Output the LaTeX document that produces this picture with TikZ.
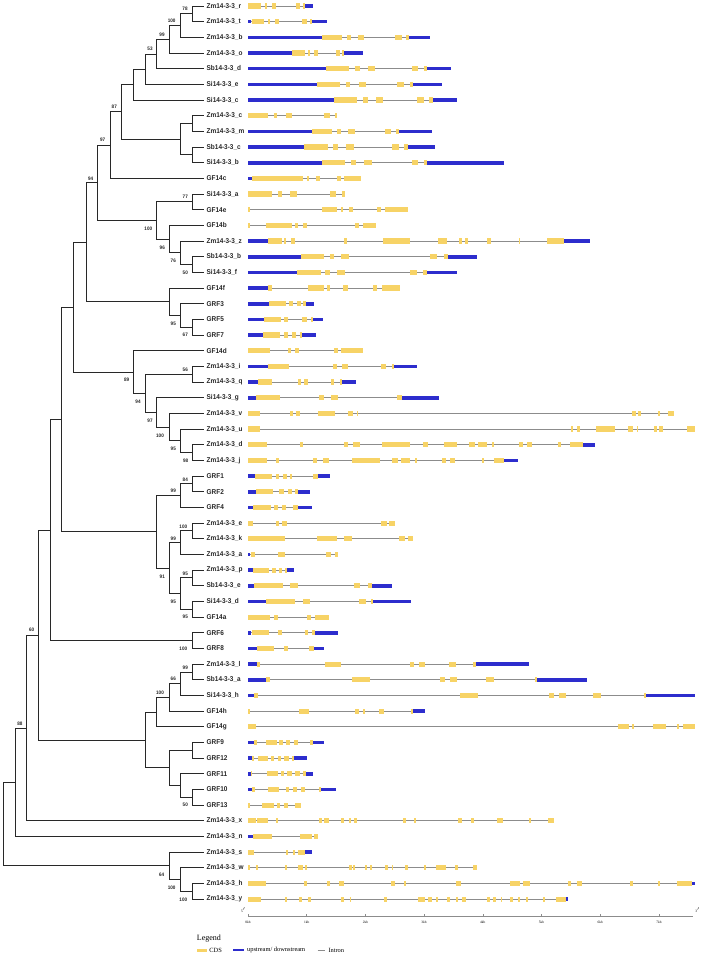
\documentclass[tikz,border=0pt]{standalone}
\usepackage{fontspec}
\setmainfont{Liberation Serif}
\newfontfamily\leaffont[FakeStretch=0.92]{Liberation Sans}
\usetikzlibrary{positioning}

\definecolor{cdsyellow}{RGB}{247,211,102}
\definecolor{utrblue}{RGB}{45,45,205}
\definecolor{introngray}{RGB}{140,140,140}
\definecolor{treegray}{RGB}{40,40,40}

\tikzset{
  branch/.style={draw=treegray, line width=1pt},
  leaf/.style={anchor=west, inner xsep=2.5pt, inner ysep=0.5pt, text=black!85,
    font=\leaffont\bfseries\fontsize{7}{8}\selectfont},
  boot/.style={inner sep=0pt, text=black!85, font=\leaffont\bfseries\fontsize{5}{5}\selectfont},
  intronline/.style={draw=introngray, line width=0.8pt},
  cdsbox/.style={fill=cdsyellow},
  utrbox/.style={fill=utrblue},
  kblabel/.style={inner sep=0pt, font=\fontsize{3.5}{4}\selectfont},
  legtext/.style={inner sep=0pt, anchor=west, font=\fontsize{6.4}{7}\selectfont}
}

% one gene row: intron, UTR boxes, CDS boxes
\newcommand{\geneline}[2]{\draw[intronline] (248.3,{6+15.67*(#1-1)}) -- (#2,{6+15.67*(#1-1)});}
\newcommand{\utrrow}[2]{\foreach \xa/\xb in {#2} {\fill[utrbox] (\xa,{6+15.67*(#1-1)-1.8}) rectangle (\xb,{6+15.67*(#1-1)+1.8});}}
\newcommand{\cdsrow}[2]{\foreach \xa/\xb in {#2} {\fill[cdsbox] (\xa,{6+15.67*(#1-1)-2.6}) rectangle (\xb,{6+15.67*(#1-1)+2.6});}}

\begin{document}
\begin{tikzpicture}[x=1pt, y=-1pt]
    \useasboundingbox (0,0) rectangle (704,959);

    % Leaves
    \foreach \i/\name in {1/Zm14-3-3\_r, 2/Zm14-3-3\_t, 3/Zm14-3-3\_b, 4/Zm14-3-3\_o,
        5/Sb14-3-3\_d, 6/Si14-3-3\_e, 7/Si14-3-3\_c, 8/Zm14-3-3\_c, 9/Zm14-3-3\_m,
        10/Sb14-3-3\_c, 11/Si14-3-3\_b, 12/GF14c, 13/Si14-3-3\_a, 14/GF14e, 15/GF14b,
        16/Zm14-3-3\_z, 17/Sb14-3-3\_b, 18/Si14-3-3\_f, 19/GF14f, 20/GRF3, 21/GRF5,
        22/GRF7, 23/GF14d, 24/Zm14-3-3\_i, 25/Zm14-3-3\_q, 26/Si14-3-3\_g,
        27/Zm14-3-3\_v, 28/Zm14-3-3\_u, 29/Zm14-3-3\_d, 30/Zm14-3-3\_j, 31/GRF1,
        32/GRF2, 33/GRF4, 34/Zm14-3-3\_e, 35/Zm14-3-3\_k, 36/Zm14-3-3\_a,
        37/Zm14-3-3\_p, 38/Sb14-3-3\_e, 39/Si14-3-3\_d, 40/GF14a, 41/GRF6, 42/GRF8,
        43/Zm14-3-3\_l, 44/Sb14-3-3\_a, 45/Si14-3-3\_h, 46/GF14h, 47/GF14g, 48/GRF9,
        49/GRF12, 50/GRF11, 51/GRF10, 52/GRF13, 53/Zm14-3-3\_x, 54/Zm14-3-3\_n,
        55/Zm14-3-3\_s, 56/Zm14-3-3\_w, 57/Zm14-3-3\_h, 58/Zm14-3-3\_y}
      \node[leaf] (L\i) at (204,{6+15.67*(\i-1)}) {\name};

    % Internal nodes
    \coordinate (a1) at (192.3,13.83);
    \coordinate (a2) at (180.7,25.59);
    \coordinate (a3) at (169,39.3);
    \coordinate (a4) at (156.7,54.0);
    \coordinate (a5) at (145,69.18);
    \coordinate (a6) at (133.3,84.59);
    \coordinate (b1) at (192.3,123.55);
    \coordinate (b2) at (192.3,154.85);
    \coordinate (b3) at (180.7,139.2);
    \coordinate (a7) at (121.7,111.9);
    \coordinate (a8) at (110,145.15);
    \coordinate (c1) at (192.3,201.85);
    \coordinate (c2) at (192.3,264.55);
    \coordinate (c3) at (180.7,252.78);
    \coordinate (c4) at (169,239.09);
    \coordinate (c5) at (156.7,220.47);
    \coordinate (a9) at (97.7,182.81);
    \coordinate (d1) at (192.3,327.25);
    \coordinate (d2) at (180.7,315.48);
    \coordinate (d3) at (169,301.79);
    \coordinate (a10) at (86,242.3);
    \coordinate (e1) at (192.3,374.25);
    \coordinate (e2) at (192.3,452.6);
    \coordinate (e3) at (180.7,440.85);
    \coordinate (e4) at (169,427.13);
    \coordinate (e5) at (156.7,412.46);
    \coordinate (e6) at (145,393.36);
    \coordinate (e7) at (133.3,372.03);
    \coordinate (a11) at (73.3,307.17);
    \coordinate (f1) at (192.3,483.95);
    \coordinate (f2) at (180.7,495.73);
    \coordinate (f3) at (192.3,530.95);
    \coordinate (f4) at (180.7,542.73);
    \coordinate (f5) at (192.3,577.95);
    \coordinate (f6) at (192.3,609.3);
    \coordinate (f7) at (180.7,593.63);
    \coordinate (f8) at (169,568.18);
    \coordinate (f9) at (156.7,531.96);
    \coordinate (a12) at (61.7,419.57);
    \coordinate (g1) at (192.3,640.65);
    \coordinate (a13) at (50,530.11);
    \coordinate (h1) at (192.3,672.0);
    \coordinate (h2) at (180.7,683.75);
    \coordinate (h3) at (169,697.48);
    \coordinate (h4) at (156.7,712.14);
    \coordinate (h5) at (192.3,750.35);
    \coordinate (h6) at (192.3,797.35);
    \coordinate (h7) at (180.7,785.58);
    \coordinate (h8) at (169,767.97);
    \coordinate (h9) at (145,740.06);
    \coordinate (a14) at (38.3,635.09);
    \coordinate (a15) at (26.7,728.0);
    \coordinate (a16) at (15,782.25);
    \coordinate (k1) at (192.3,891.35);
    \coordinate (k2) at (180.7,879.63);
    \coordinate (k3) at (169,865.92);
    \coordinate (root) at (3.3,824.08);

    % Branches
    \foreach \p/\c in {a1/L1, a1/L2, a2/a1, a2/L3, a3/a2, a3/L4, a4/a3, a4/L5, a5/a4, a5/L6,
        a6/a5, a6/L7, b1/L8, b1/L9, b2/L10, b2/L11, b3/b1, b3/b2, a7/a6, a7/b3, a8/a7, a8/L12,
        c1/L13, c1/L14, c2/L17, c2/L18, c3/L16, c3/c2, c4/L15, c4/c3, c5/c1, c5/c4, a9/a8, a9/c5,
        d1/L21, d1/L22, d2/L20, d2/d1, d3/L19, d3/d2, a10/a9, a10/d3,
        e1/L24, e1/L25, e2/L29, e2/L30, e3/L28, e3/e2, e4/L27, e4/e3, e5/L26, e5/e4,
        e6/e1, e6/e5, e7/L23, e7/e6, a11/a10, a11/e7,
        f1/L31, f1/L32, f2/f1, f2/L33, f3/L34, f3/L35, f4/f3, f4/L36, f5/L37, f5/L38,
        f6/L39, f6/L40, f7/f5, f7/f6, f8/f4, f8/f7, f9/f2, f9/f8, a12/a11, a12/f9,
        g1/L41, g1/L42, a13/a12, a13/g1,
        h1/L43, h1/L44, h2/h1, h2/L45, h3/h2, h3/L46, h4/h3, h4/L47, h5/L48, h5/L49,
        h6/L51, h6/L52, h7/L50, h7/h6, h8/h5, h8/h7, h9/h4, h9/h8, a14/a13, a14/h9,
        a15/a14, a15/L53, a16/a15, a16/L54,
        k1/L57, k1/L58, k2/L56, k2/k1, k3/L55, k3/k2, root/a16, root/k3}
      \draw[branch] (\p) |- (\c);

    % Bootstrap values
    \foreach \x/\y/\v [count=\n] in {185/9/78, 171.7/20.7/100, 162/34.3/99, 150/49/53,
        114.3/106.7/87, 102.7/140/97, 90.7/178.3/94, 185.3/196.7/77, 148.3/228.3/100,
        162.3/247.7/96, 173.3/260.7/76, 185.3/272.3/50, 173.3/324/95, 185.3/335/67,
        185.3/369.3/56, 126.7/380/89, 138/401.7/94, 150/421/97, 160/435.7/100,
        173.3/449/95, 185.7/460.7/98, 185.3/480/84, 173.3/491/99, 183.3/526.7/100,
        173.3/538.3/99, 185.3/573.3/95, 162.3/576.7/91, 173.3/601.7/95, 185.3/616.7/95,
        183.3/649/100, 31.7/630/60, 185.3/667.3/99, 173.3/679/66, 160/692.3/100,
        185.3/805/50, 20/724/88, 161.7/875/64, 171.7/887.7/100, 183.3/900/100}
      \node[boot] (bs\n) at (\x,\y) {\v};

    % Gene structures
    \geneline{1}{312.7} \utrrow{1}{305/312.7}
    \cdsrow{1}{248.3/261, 265/267.3, 272.3/276, 296/300, 303.3/305}
    \geneline{2}{327.3} \utrrow{2}{248.3/251, 311.7/327.3}
    \cdsrow{2}{252.3/264.3, 268.3/270.3, 275/279, 302.3/306.7, 310/311.7}
    \geneline{3}{430.3} \utrrow{3}{248.3/322.3, 409/430.3}
    \cdsrow{3}{322.3/342, 347.3/351, 358.3/364.3, 395/401.7, 406.3/409}
    \geneline{4}{362.7} \utrrow{4}{248.3/291.7, 344/362.7}
    \cdsrow{4}{291.7/305, 307.7/310, 314/318, 336/340, 342/344}
    \geneline{5}{451.3} \utrrow{5}{248.3/326, 426.7/451.3}
    \cdsrow{5}{326/349.3, 355/360, 367.7/375, 411.7/418.3, 424/426.7}
    \geneline{6}{442} \utrrow{6}{248.3/316.7, 413.3/442}
    \cdsrow{6}{316.7/340, 345.7/350.3, 359/366.3, 396.7/403.7, 409.7/413.3}
    \geneline{7}{457.3} \utrrow{7}{248.3/334, 432.7/457.3}
    \cdsrow{7}{334/357.3, 363.3/368, 375.7/383, 417/424.3, 429.3/432.7}
    \geneline{8}{337.3}
    \cdsrow{8}{248.3/268.3, 274/277.3, 285.7/292.3, 324/330, 335/337.3}
    \geneline{9}{432.3} \utrrow{9}{248.3/311.7, 399.3/432.3}
    \cdsrow{9}{311.7/332, 337.3/341.3, 348.3/355, 385.3/391, 396.3/399.3}
    \geneline{10}{434.7} \utrrow{10}{248.3/304.3, 407.7/434.7}
    \cdsrow{10}{304.3/327.7, 333/338, 346/353.7, 392/398.7, 403.7/407.7}
    \geneline{11}{504.3} \utrrow{11}{248.3/321.7, 427.3/504.3}
    \cdsrow{11}{321.7/344.7, 351/355.7, 364.3/372, 411.7/418.3, 423.7/427.3}
    \geneline{12}{361} \utrrow{12}{248.3/252.3}
    \cdsrow{12}{252.3/303.3, 306.7/309, 316/320, 336.7/340.7, 344.3/361}
    \geneline{13}{345}
    \cdsrow{13}{248.3/272.3, 278.3/282.3, 290.3/297.3, 329.7/336, 342/345}
    \geneline{14}{407.7}
    \cdsrow{14}{248.3/250, 322/337, 340.7/343.3, 349/353.3, 377.3/381, 385/407.7}
    \geneline{15}{376}
    \cdsrow{15}{248.3/249.7, 266/292.3, 295/298.3, 302.7/306.7, 355/359, 363/376}
    \geneline{16}{590} \utrrow{16}{248.3/267.7, 564/590}
    \cdsrow{16}{267.7/281.7, 284/286.3, 291.3/295, 344/347.3, 382.7/410, 438/447.3,
      459.3/462.3, 465/467.7, 486.7/490.7, 519/520.3, 547.3/564}
    \geneline{17}{477.3} \utrrow{17}{248.3/300.7, 447.7/477.3}
    \cdsrow{17}{300.7/324.3, 329.7/334.3, 341.3/349, 430/437, 443.7/447.7}
    \geneline{18}{457} \utrrow{18}{248.3/296.7, 426.7/457}
    \cdsrow{18}{296.7/320.7, 325/330, 337.3/344.7, 409.7/417, 423/426.7}
    \geneline{19}{399.7} \utrrow{19}{248.3/268.3}
    \cdsrow{19}{268.3/271.7, 307.7/324, 327.3/330.3, 343/347.7, 373/377.3, 381.7/399.7}
    \geneline{20}{314} \utrrow{20}{248.3/269.3, 305.7/314}
    \cdsrow{20}{269.3/285.7, 289.3/293.3, 296.7/300.7, 303.3/305.7}
    \geneline{21}{323.3} \utrrow{21}{248.3/264, 313.3/323.3}
    \cdsrow{21}{264/280.7, 284.3/288.3, 302.3/306.7, 311/313.3}
    \geneline{22}{316} \utrrow{22}{248.3/263.3, 302.3/316}
    \cdsrow{22}{263.3/280, 284/287.7, 292/295.7, 300/302.3}
    \geneline{23}{362.7}
    \cdsrow{23}{248.3/270, 287.7/290.7, 295/299, 333.7/338.3, 341/362.7}
    \geneline{24}{417.3} \utrrow{24}{248.3/267.7, 394/417.3}
    \cdsrow{24}{267.7/289, 333/336.7, 342.3/347.7, 381/386, 391.7/394}
    \geneline{25}{356} \utrrow{25}{248.3/258.3, 341.7/356}
    \cdsrow{25}{258.3/271.7, 297.7/300.7, 304/307.7, 331/334.3, 340/341.7}
    \geneline{26}{438.7} \utrrow{26}{248.3/255.7, 402.3/438.7}
    \cdsrow{26}{255.7/280.3, 319/323.7, 330.7/337.7, 396.7/402.3}
    \geneline{27}{674}
    \cdsrow{27}{248.3/260.3, 290.3/293, 295.7/299.7, 317.7/335, 348.3/352.7, 356.7/358.3,
      632.3/635.7, 637.7/641, 658/659.7, 668/674}
    \geneline{28}{695.3}
    \cdsrow{28}{248.3/260.3, 570.7/573, 576.7/580, 595.7/615, 628.3/633.3, 636.7/638.3,
      653.7/657, 659.3/662.7, 687.3/695.3}
    \geneline{29}{595.3} \utrrow{29}{582.7/595.3}
    \cdsrow{29}{248.3/266.7, 299.7/302.7, 344.3/348.3, 353.3/359.7, 382.3/409.7, 422.7/428,
      444/457, 469.3/475, 478.3/487.3, 491.7/494.3, 518.7/523.3, 527/532, 558/561, 569.7/582.7}
    \geneline{30}{518.3} \utrrow{30}{504.3/518.3}
    \cdsrow{30}{248.3/266.7, 275.7/279.3, 313/317.3, 322.7/328.7, 352.3/380, 392/397.7,
      401.3/409.7, 415/417.3, 441.7/446.3, 450/455, 481.7/484.3, 494.3/504.3}
    \geneline{31}{330} \utrrow{31}{248.3/255, 318.3/330}
    \cdsrow{31}{255/272.3, 275.7/279.3, 283.3/287.3, 290/292, 313/318.3}
    \geneline{32}{310} \utrrow{32}{248.3/256, 297.7/310}
    \cdsrow{32}{256/273.3, 279.3/283.7, 287.7/291.7, 295/297.7}
    \geneline{33}{312} \utrrow{33}{248.3/253.3, 298.3/312}
    \cdsrow{33}{253.3/271, 274.3/278.3, 282.3/285.7, 292.7/298.3}
    \geneline{34}{395}
    \cdsrow{34}{248.3/252.7, 275.7/279.3, 281.7/286.7, 381/386.7, 389.3/395}
    \geneline{35}{412.7}
    \cdsrow{35}{248.3/285, 317/337.3, 343.7/351.7, 399.3/405, 407.7/412.7}
    \geneline{36}{338.3} \utrrow{36}{248.3/250}
    \cdsrow{36}{251/255, 277.7/285, 325.7/331, 335/338.3}
    \geneline{37}{294} \utrrow{37}{248.3/253.3, 286.7/294}
    \cdsrow{37}{253.3/269.3, 272.3/275.7, 279.3/282.3, 284.7/286.7}
    \geneline{38}{392.3} \utrrow{38}{248.3/254.3, 371.7/392.3}
    \cdsrow{38}{254.3/282.7, 290/297.7, 354/360, 368.3/371.7}
    \geneline{39}{410.7} \utrrow{39}{248.3/266, 373.3/410.7}
    \cdsrow{39}{266/295, 303.3/310.3, 359.3/366, 371/373.3}
    \geneline{40}{329.3}
    \cdsrow{40}{248.3/270, 274.3/277.7, 307.3/311.3, 315/329.3}
    \geneline{41}{338} \utrrow{41}{248.3/251, 315/338}
    \cdsrow{41}{251.7/269, 278.3/282.3, 305/308.3, 311.7/315}
    \geneline{42}{324} \utrrow{42}{248.3/256.7, 314.3/324}
    \cdsrow{42}{256.7/274, 284/287.7, 309/314.3}
    \geneline{43}{529.3} \utrrow{43}{248.3/256.7, 476/529.3}
    \cdsrow{43}{256.7/259.7, 325.3/340.7, 410/414, 419/425, 449.3/456, 473.3/476}
    \geneline{44}{587.3} \utrrow{44}{248.3/265.7, 536.7/587.3}
    \cdsrow{44}{265.7/270, 351.7/369.7, 440.3/445, 450.3/457, 486/494, 534.7/536.7}
    \geneline{45}{695.3} \utrrow{45}{248.3/254.3, 646.3/695.3}
    \cdsrow{45}{254.3/258.3, 460/477.7, 549/553.7, 559.3/566, 592.7/601, 644.3/646.3}
    \geneline{46}{425} \utrrow{46}{412.7/425}
    \cdsrow{46}{248.3/250.3, 298.7/309.3, 355.3/358.7, 363.3/365.3, 379/384, 411/412.7}
    \geneline{47}{695.3}
    \cdsrow{47}{248.3/255.7, 617.7/629, 631.7/634.3, 653/665.7, 676.7/679, 682.7/695.3}
    \geneline{48}{324.3} \utrrow{48}{248.3/254.3, 313.3/324.3}
    \cdsrow{48}{254.3/257.3, 266/277, 279.3/282.7, 285.7/290, 294/298.3, 309.7/313.3}
    \geneline{49}{307} \utrrow{49}{248.3/252.3, 294.3/307}
    \cdsrow{49}{252.3/254.3, 257.7/268.3, 271/274.3, 277.7/281, 284.3/289, 291.7/294.3}
    \geneline{50}{313.3} \utrrow{50}{248.3/250.7, 305.7/313.3}
    \cdsrow{50}{250.7/252.3, 266.7/277.7, 281/284.3, 287/291.7, 295/300, 303.3/305.7}
    \geneline{51}{336.3} \utrrow{51}{248.3/252.3, 321/336.3}
    \cdsrow{51}{252.3/255, 267.7/279, 285.7/289.3, 293/297.3, 300.7/305, 319/321}
    \geneline{52}{301}
    \cdsrow{52}{248.3/250.3, 262.3/273.7, 277/280.3, 284.3/288.3, 295/301}
    \geneline{53}{554}
    \cdsrow{53}{248.3/256, 257/268.3, 275.7/278.3, 319.3/321.7, 324/329, 340.7/344,
      348.7/351.3, 354.3/357, 403/406.3, 414.3/416, 457.7/462.3, 471/473.7, 496.7/503.3,
      528.7/530.7, 548/554}
    \geneline{54}{317.7} \utrrow{54}{248.3/253.3}
    \cdsrow{54}{253.3/271.7, 300/311.7, 314.3/317.7}
    \geneline{55}{312.3} \utrrow{55}{305/312.3}
    \cdsrow{55}{248.3/254.3, 285.7/287.7, 292.7/295, 298.3/305}
    \geneline{56}{477.3}
    \cdsrow{56}{248.3/249.7, 256/258.3, 285/287, 298.3/303.3, 304.7/307, 348.7/351.7,
      353.3/355, 365/367, 369.7/372.3, 385/388, 392/393.3, 405/408.3, 424/425.7,
      436/446.3, 455/457.7, 472.7/477.3}
    \geneline{57}{695.3} \utrrow{57}{692.3/695.3}
    \cdsrow{57}{248.3/266, 304.3/306.7, 326.7/330.3, 339.3/344, 390.7/395, 404.3/406,
      456/461, 510/520, 523.3/530, 567.7/571, 577.3/582, 630/633.3, 657.7/660.3, 676.7/692.3}
    \geneline{58}{568.3} \utrrow{58}{566/568.3}
    \cdsrow{58}{248.3/260.7, 285/286.7, 299.3/302, 307.7/310.7, 341.3/344, 350/351,
      384.3/387, 418.3/425, 427.7/431.7, 436.3/438.3, 446.7/449.7, 456/458.3, 462.3/465.7,
      487.3/490, 492.7/495.7, 500.7/502.3, 510/512.7, 518/520, 525.7/528, 543.3/545.3, 556/566}

    % Scale
    \coordinate (axstart) at (248,916.7);
    \coordinate (axend) at (693,916.7);
    \draw[intronline, line width=0.6pt] (axstart) -- (axend);
    \foreach \k in {0,...,7} {
      \draw[introngray, line width=0.5pt] ({248+58.7*\k},916.7) -- ++(0,-3);
      \node[kblabel] (kb\k) at ({248+58.7*\k},922) {\k kb};
    }
    \node[kblabel] (fiveend) at (243.3,910) {5$'$};
    \node[kblabel] (threeend) at (697.7,910) {3$'$};

    % Legend
    \node[legtext, font=\fontsize{8}{9}\selectfont] (legtitle) at (196.7,938.3) {Legend};
    \node[cdsbox, minimum width=10, minimum height=3.5, inner sep=0pt] (legcds) at (201.7,950.3) {};
    \node[legtext, right=2.3pt of legcds] (cdstext) {CDS};
    \node[utrbox, minimum width=11, minimum height=2, inner sep=0pt] (legutr) at (238.8,950.3) {};
    \node[legtext, right=2.4pt of legutr] (utrtext) {upstream/ downstream};
    \coordinate (legintronA) at (317.7,950.3);
    \coordinate (legintronB) at (325,950.3);
    \draw[intronline] (legintronA) -- (legintronB);
    \node[legtext, right=3.3pt of legintronB] (introntext) {Intron};
\end{tikzpicture}
\end{document}
